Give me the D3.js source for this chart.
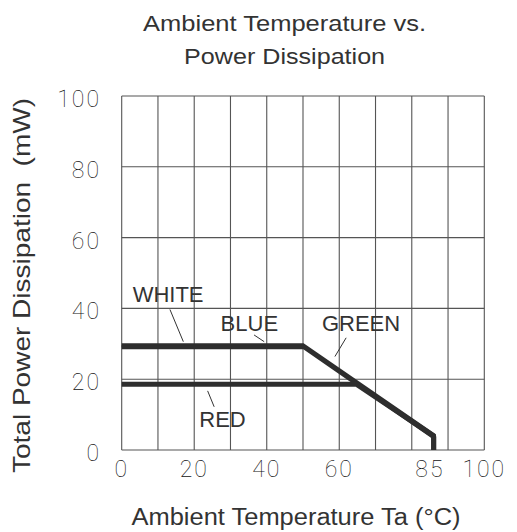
<!DOCTYPE html>
<html>
<head>
<meta charset="utf-8">
<script src="https://cdn.jsdelivr.net/npm/d3@7"></script>
<style>
  html, body { margin: 0; padding: 0; background: #fff; }
  svg { display: block; }
</style>
</head>
<body>
<div id="chart"></div>
<script>
// ---- data ----
const xTicks = [0, 20, 40, 60, 85, 100];
const yTicks = [0, 20, 40, 60, 80, 100];
const xGrid = [0, 10, 20, 30, 40, 50, 60, 70, 80, 90, 100];
const yGrid = [0, 20, 40, 60, 80, 100];

const seriesNames = ["WHITE", "BLUE", "GREEN", "RED"];
const whiteTemp = [0, 50, 86, 86];
const whitePower = [29.6, 29.6, 4.2, 0];
const blueTemp = [0, 50.3, 86.2, 86.2];
const bluePower = [29.0, 29.0, 3.5, 0];
const greenTemp = [50.2, 86.1, 86.1];
const greenPower = [29.3, 3.8, 0];
const redTemp = [0, 64.7, 86, 86];
const redPower = [18.6, 18.6, 4, 0];

// annotation anchors in data units: label point, leader start, leader end
const labelTemp = [12.8, 35.2, 66.0, 27.8];
const labelPower = [41.7, 33.7, 33.7, 6.6];
const leaderFrom = [[13.3, 39.7], [36.5, 32.5], [61.9, 31.7], [23.7, 16.7]];
const leaderTo = [[17.0, 30.6], [39.3, 30.6], [58.8, 26.4], [25.5, 12.2]];

const titleLines = ["Ambient Temperature vs.", "Power Dissipation"];
const xTitle = "Ambient Temperature Ta (°C)";
const yTitle = "Total Power Dissipation  (mW)";

// ---- layout ----
const W = 517, H = 532;
const L = 121.7, R = 484.3, T = 96, B = 450;
const ink = "#333";

const svg = d3.select("#chart").append("svg").attr("width", W).attr("height", H);

const x = d3.scaleLinear().domain([0, 100]).range([L, R]);
const y = d3.scaleLinear().domain([0, 100]).range([B, T]);

// grid
const g = svg.append("g");
g.selectAll("line.v").data(xGrid).join("line")
  .attr("x1", d => x(d)).attr("x2", d => x(d))
  .attr("y1", T).attr("y2", B)
  .attr("stroke", "#555").attr("stroke-width", 1.1);
g.selectAll("line.h").data(yGrid).join("line")
  .attr("y1", d => y(d)).attr("y2", d => y(d))
  .attr("x1", L).attr("x2", R)
  .attr("stroke", "#555").attr("stroke-width", 1.1);

// tick labels
const tickFont = "Roboto, 'DejaVu Sans', sans-serif";
svg.append("g").selectAll("text").data(yTicks).join("text")
  .attr("x", 101).attr("y", d => y(d) + 11)
  .attr("text-anchor", "end")
  .attr("font-family", tickFont).attr("font-weight", 100)
  .attr("font-size", 23).attr("letter-spacing", 2)
  .attr("fill", "#111").text(d => d);
svg.append("g").selectAll("text").data(xTicks).join("text")
  .attr("x", d => x(d)).attr("y", 476.5)
  .attr("text-anchor", "middle")
  .attr("font-family", tickFont).attr("font-weight", 100)
  .attr("font-size", 23).attr("letter-spacing", 2)
  .attr("fill", "#111").text(d => d);

// curves
const line = d3.line().x(d => x(d[0])).y(d => y(d[1]));
const zip = (a, b) => a.map((v, i) => [v, b[i]]);
const curves = [
  zip(whiteTemp, whitePower),
  zip(blueTemp, bluePower),
  zip(greenTemp, greenPower),
  zip(redTemp, redPower)
];
const widths = [4, 4, 3, 5];
svg.append("g").selectAll("path").data(curves).join("path")
  .attr("d", line)
  .attr("fill", "none")
  .attr("stroke", "#2e2e2e")
  .attr("stroke-width", (d, i) => widths[i])
  .attr("stroke-linejoin", "miter");

// annotations
const font = "'Liberation Sans', Arial, sans-serif";
const ann = svg.append("g");
seriesNames.forEach((name, i) => {
  ann.append("line")
    .attr("x1", x(leaderFrom[i][0])).attr("y1", y(leaderFrom[i][1]))
    .attr("x2", x(leaderTo[i][0])).attr("y2", y(leaderTo[i][1]))
    .attr("stroke", ink).attr("stroke-width", 1);
  ann.append("text")
    .attr("x", x(labelTemp[i])).attr("y", y(labelPower[i]))
    .attr("text-anchor", "middle")
    .attr("font-family", font).attr("font-size", 22)
    .attr("fill", ink).text(name);
});

// titles
const tl = svg.append("g");
[[titleLines[0], 31, 283], [titleLines[1], 63.5, 201]].forEach(([t, yy, len]) => {
  tl.append("text")
    .attr("x", 284.6).attr("y", yy)
    .attr("text-anchor", "middle")
    .attr("font-family", font).attr("font-size", 22)
    .attr("textLength", len).attr("lengthAdjust", "spacingAndGlyphs")
    .attr("fill", ink).text(t);
});
svg.append("text")
  .attr("x", 296).attr("y", 525)
  .attr("text-anchor", "middle")
  .attr("font-family", font).attr("font-size", 23)
  .attr("textLength", 329).attr("lengthAdjust", "spacingAndGlyphs")
  .attr("fill", ink).text(xTitle);
svg.append("text")
  .attr("transform", "translate(30,285.5) rotate(-90)")
  .attr("text-anchor", "middle")
  .attr("font-family", font).attr("font-size", 24)
  .attr("textLength", 375).attr("lengthAdjust", "spacingAndGlyphs")
  .style("white-space", "pre")
  .attr("fill", ink).text(yTitle);
</script>
</body>
</html>
